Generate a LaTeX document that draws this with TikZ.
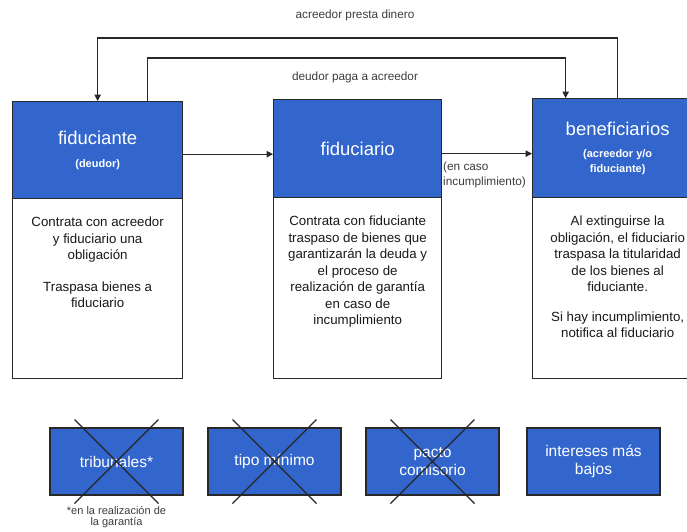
\documentclass[tikz,border=0pt]{standalone}
\usepackage{fontspec}
\setmainfont{Liberation Sans}
\usetikzlibrary{positioning,arrows.meta}
\definecolor{boxblue}{RGB}{51,102,204}
\definecolor{edgegray}{RGB}{40,40,40}
\definecolor{labelgray}{RGB}{60,60,60}
\newcommand{\subnote}[1]{{\fontsize{11}{13}\selectfont\bfseries #1}}
\tikzset{
  head/.style={draw=edgegray, line width=1.3pt, fill=boxblue, text=white, anchor=north west,
    inner sep=0pt, align=center, font=\fontsize{18.5}{20}\selectfont},
  bodybox/.style={draw=edgegray, line width=1.3pt, fill=white, anchor=north west, inner sep=0pt},
  bodytext/.style={align=center, inner sep=0pt, font=\fontsize{13.3}{16.5}\selectfont, text=black!90},
  option/.style={draw=edgegray, line width=1.3pt, fill=boxblue, text=white, minimum width=133pt,
    minimum height=67pt, inner sep=0pt, align=center, font=\fontsize{15.5}{18}\selectfont},
  note/.style={font=\fontsize{11.8}{14.5}\selectfont, text=labelgray, align=center, inner sep=0pt},
  arr/.style={-{Triangle[length=6.5pt,width=6.5pt]}, line width=1.1pt, draw=edgegray},
  cross/.style={line width=1.1pt, draw=black!85}
}
\begin{document}
\begin{tikzpicture}[x=1pt,y=-1pt]
\useasboundingbox (0,0) rectangle (687,531);
\clip (0,0) rectangle (687,531);
\node[head, minimum width=170pt, minimum height=97pt] (fte) at (12,101) {fiduciante\\[3pt]\subnote{(deudor)}};
\node[bodybox, minimum width=170pt, minimum height=180pt] (fteb) at (12,198) {};
\node[head, minimum width=168pt, minimum height=98pt] (fio) at (273,99) {fiduciario};
\node[head, minimum width=170pt, minimum height=99pt] (ben) at (532,98)
  {beneficiarios\\[2pt]\subnote{(acreedor y/o}\\[-5pt]\subnote{fiduciante)}};
\node[bodybox, minimum width=168pt, minimum height=181pt] (fiob) at (273,197) {};
\node[bodybox, minimum width=170pt, minimum height=181pt] (benb) at (532,197) {};
\node[bodytext, below=19pt of fteb.north] (ftet) {Contrata con acreedor\\y fiduciario una\\obligación\\[15pt]
  Traspasa bienes a\\fiduciario};
\node[bodytext, below=19pt of fiob.north] (fiot) {Contrata con fiduciante\\traspaso de bienes que\\garantizarán la deuda y\\
  el proceso de\\realización de garantía\\en caso de\\incumplimiento};
\node[bodytext, below=19pt of benb.north] (bent) {Al extinguirse la\\obligación, el fiduciario\\traspasa la titularidad\\
  de los bienes al\\fiduciante.\\[13pt]Si hay incumplimiento,\\notifica al fiduciario};
\draw[arr] ([yshift=-4pt]fte.east) -- ([yshift=-4pt]fte.east -| fio.west);
\draw[arr] ([yshift=-5pt]fio.east) -- ([yshift=-5pt]fio.east -| ben.west);
\draw[arr] (ben.north) -- ++(0,-60) -| (fte.north);
\draw[arr] ([xshift=50pt]fte.north) -- ++(0,-43) -| ([xshift=-52pt]ben.north);
\node[note] (lend) at (355,15) {acreedor presta dinero};
\node[note] (repay) at (355,77) {deudor paga a acreedor};
\node[note, anchor=west, align=left] (cond) at (443,175) {(en caso\\incumplimiento)};
\node[option] (trib) at (116.5,461.5) {tribunales*};
\node[option] (tipo) at (274.5,461.5) {tipo mínimo};
\node[option] (pacto) at (432.5,461.5) {pacto\\comisorio};
\node[option] (int) at (593.5,461.5) {intereses más\\bajos};
\foreach \b in {trib,tipo,pacto}
  \draw[cross] ([shift={(-42,-42)}]\b.center) -- ([shift={(42,42)}]\b.center)
    ([shift={(42,-42)}]\b.center) -- ([shift={(-42,42)}]\b.center);
\node[note, font=\fontsize{11}{12}\selectfont, below=11pt of trib] (foot) {*en la realización de\\[-1.5pt]la garantía};
\end{tikzpicture}
\end{document}
